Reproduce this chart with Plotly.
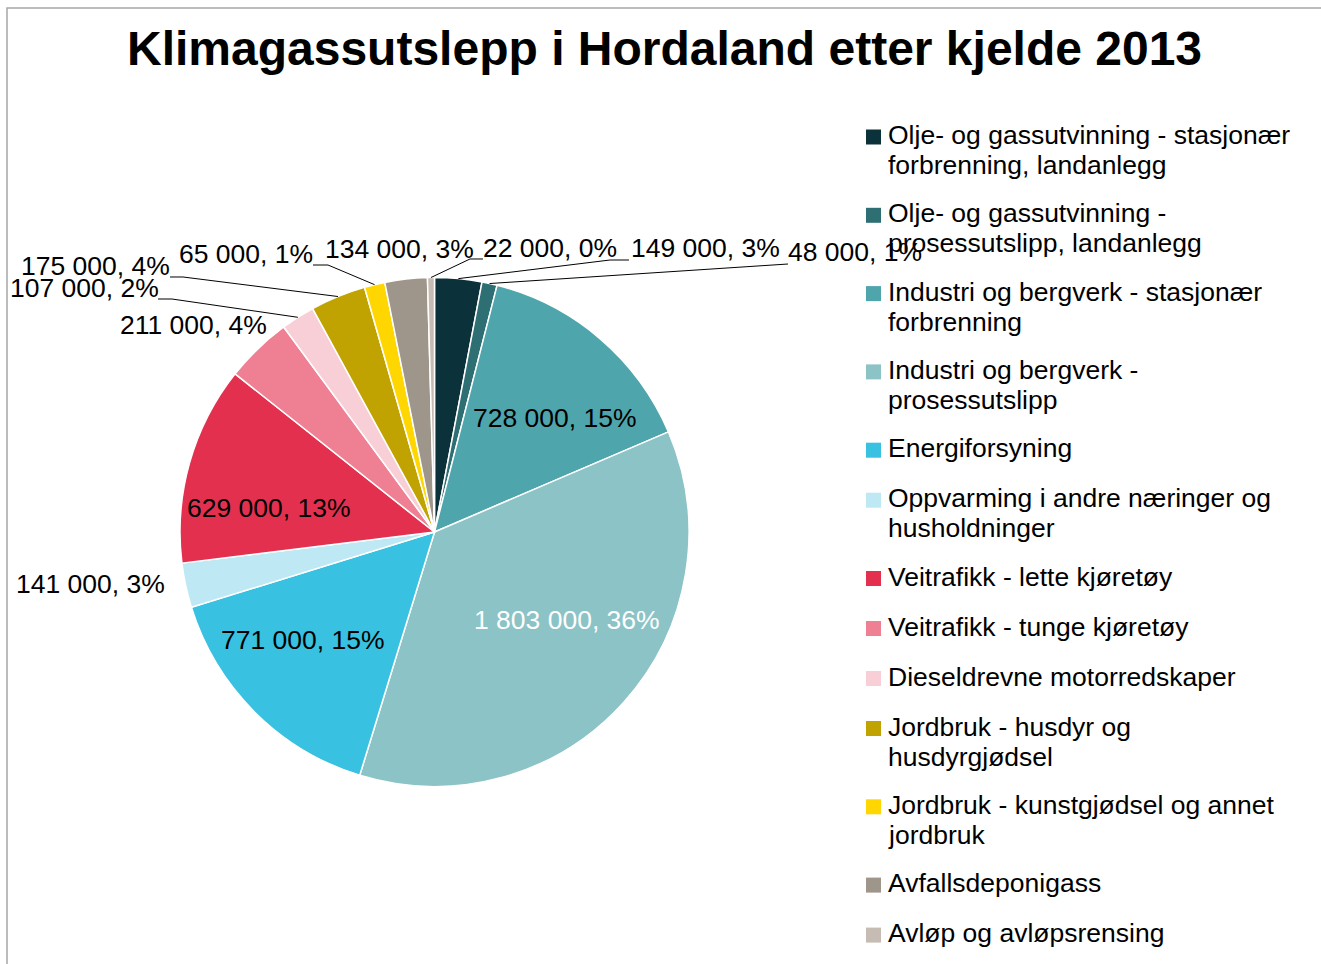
import math
import plotly.graph_objects as go

# ---------------- data ----------------
title = "Klimagassutslepp i Hordaland etter kjelde 2013"
categories = [
    "Olje- og gassutvinning - stasjonær\nforbrenning, landanlegg",
    "Olje- og gassutvinning -\nprosessutslipp, landanlegg",
    "Industri og bergverk - stasjonær\nforbrenning",
    "Industri og bergverk -\nprosessutslipp",
    "Energiforsyning",
    "Oppvarming i andre næringer og\nhusholdninger",
    "Veitrafikk - lette kjøretøy",
    "Veitrafikk - tunge kjøretøy",
    "Dieseldrevne motorredskaper",
    "Jordbruk - husdyr og\nhusdyrgjødsel",
    "Jordbruk - kunstgjødsel og annet\njordbruk",
    "Avfallsdeponigass",
    "Avløp og avløpsrensing",
]
values = [149000, 48000, 728000, 1803000, 771000, 141000, 629000,
          211000, 107000, 175000, 65000, 134000, 22000]
colors = ["#0b323b", "#2e6f73", "#4fa5ac", "#8bc3c6", "#38c1e0", "#bde8f4",
          "#e4304f", "#ef8093", "#f8cfd7", "#c0a200", "#ffd600", "#9e958b",
          "#c6bcb3"]

# ---------------- layout constants ----------------
W, H = 1321, 964
FONT = "Liberation Sans, Arial, sans-serif"
FS = 26.5
CX, CY, R = 434.5, 532.0, 254.5   # pie centre / radius in px
TX = -2  # annotation text padding compensation

def px(x):
    return x / W

def py(y):
    return 1 - y / H

# label placement: (left x, centre y, colour)
label_pos = [
    (631, 248, "black"), (788, 252, "black"), (473, 418, "black"),
    (474, 620, "white"), (221, 640, "black"), (16, 584, "black"),
    (187, 508, "black"), (120, 325, "black"), (10, 288, "black"),
    (21, 266, "black"), (179, 254, "black"), (325, 249, "black"),
    (483, 248, "black"),
]
# leader lines: label-side points (px) for slices that have them
leaders = {
    0: [(610, 260), (629, 260)],
    1: [(788, 264)],
    8: [(172, 299), (158, 299)],
    9: [(183, 277), (170, 277)],
    10: [(328, 265), (313, 265)],
    12: [(470, 259), (483, 259)],
}

fig = go.Figure()
fig.add_trace(go.Pie(
    labels=[c.replace("\n", " ") for c in categories],
    values=values,
    marker=dict(colors=colors, line=dict(color="white", width=1.5)),
    sort=False, direction="clockwise", rotation=0,
    textinfo="none", hoverinfo="label+value+percent",
    showlegend=False,
    domain=dict(x=[px(CX - R), px(CX + R)], y=[py(CY + R), py(CY - R)]),
))

total = sum(values)
annotations = []
shapes = []

# data labels + leader lines
cum = 0
for i, v in enumerate(values):
    pct = round(100 * v / total)
    txt = f"{v:,}".replace(",", " ") + f", {pct}%"
    lx, ly, col = label_pos[i]
    annotations.append(dict(
        x=px(lx + TX), y=py(ly), xref="paper", yref="paper", text=txt,
        showarrow=False, xanchor="left", yanchor="middle",
        font=dict(family=FONT, size=FS, color=col)))
    theta = 2 * math.pi * (cum + v / 2) / total
    ex = CX + R * math.sin(theta)
    ey = CY - R * math.cos(theta)
    if i in leaders:
        pts = [(ex, ey)] + leaders[i]
        path = "M " + " L ".join(f"{px(a):.5f},{py(b):.5f}" for a, b in pts)
        shapes.append(dict(type="path", xref="paper", yref="paper", path=path,
                           line=dict(color="black", width=1)))
    cum += v

# manual legend
LEG_Y0, ONE, EXTRA = 135, 50.0, 28.3
y = LEG_Y0
for i, c in enumerate(categories):
    lines = c.split("\n")
    shapes.append(dict(type="rect", xref="paper", yref="paper",
                       x0=px(866), x1=px(881), y0=py(y + 9.5), y1=py(y - 5.5),
                       fillcolor=colors[i], line=dict(width=0)))
    for k, ln in enumerate(lines):
        annotations.append(dict(
            x=px(888 + TX), y=py(y + 30 * k), xref="paper", yref="paper", text=ln,
            showarrow=False, xanchor="left", yanchor="middle",
            font=dict(family=FONT, size=FS, color="black")))
    y += ONE + EXTRA * (len(lines) - 1)

# title
annotations.append(dict(
    x=px(664), y=py(48), xref="paper", yref="paper", text=f"<b>{title}</b>",
    showarrow=False, xanchor="center", yanchor="middle",
    font=dict(family=FONT, size=48, color="black")))

# chart frame (only left & top visible)
shapes.append(dict(type="rect", xref="paper", yref="paper",
                   x0=px(7), x1=1.05, y0=-0.05, y1=py(8),
                   line=dict(color="#a6a6a6", width=1.5), layer="below"))

fig.update_layout(
    width=W, height=H, margin=dict(l=0, r=0, t=0, b=0),
    paper_bgcolor="white", plot_bgcolor="white",
    annotations=annotations, shapes=shapes,
)
fig.write_html("out.html",
               config={"displayModeBar": False},
               post_script="document.body.style.margin='0';"
                           "document.body.style.overflow='hidden';")
